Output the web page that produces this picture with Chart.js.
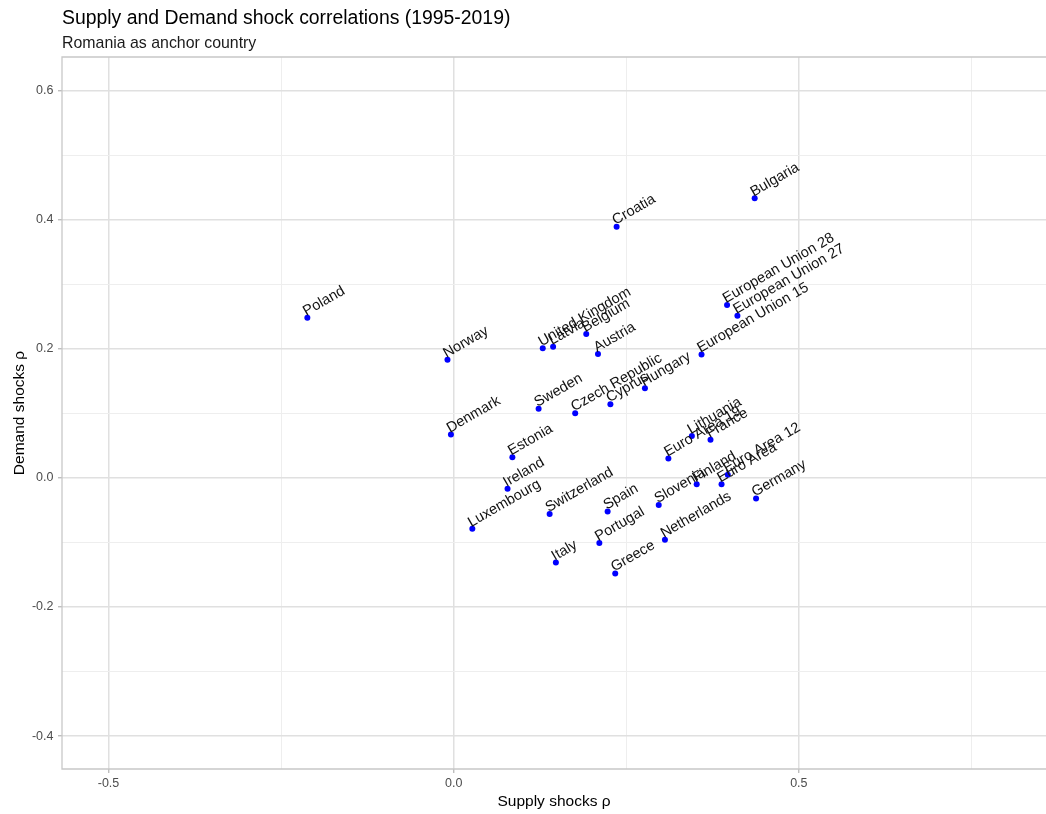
<!DOCTYPE html>
<html>
<head>
<meta charset="utf-8">
<title>Supply and Demand shock correlations (1995-2019)</title>
<script src="https://cdn.jsdelivr.net/npm/chart.js@4/dist/chart.umd.min.js"></script>
<style>
  html, body { margin: 0; padding: 0; background: #ffffff; }
  #wrap { width: 1046px; height: 814px; }
</style>
</head>
<body>
<div id="wrap"><canvas id="chart" width="1046" height="814"></canvas></div>
<script>
// Correlation of supply and demand shocks with Romania, 1995-2019
const countries = [
  'Poland', 'Norway', 'Denmark', 'Croatia', 'Bulgaria',
  'European Union 28', 'European Union 27', 'European Union 15',
  'Austria', 'Belgium', 'United Kingdom', 'Latvia', 'Sweden',
  'Czech Republic', 'Cyprus', 'Hungary', 'Estonia', 'Ireland',
  'Luxembourg', 'Switzerland', 'Spain', 'Portugal', 'Italy', 'Greece',
  'Slovenia', 'Netherlands', 'Euro Area 19', 'Lithuania', 'France',
  'Finland', 'Euro Area', 'Euro Area 12', 'Germany'
];
const supplyRho = [
  -0.212, -0.009, -0.004, 0.236, 0.436,
  0.396, 0.411, 0.359,
  0.209, 0.192, 0.129, 0.144, 0.123,
  0.176, 0.227, 0.277, 0.085, 0.078,
  0.027, 0.139, 0.223, 0.211, 0.148, 0.234,
  0.297, 0.306, 0.311, 0.345, 0.372,
  0.352, 0.388, 0.397, 0.438
];
const demandRho = [
  0.248, 0.183, 0.067, 0.389, 0.433,
  0.268, 0.251, 0.191,
  0.192, 0.223, 0.201, 0.203, 0.107,
  0.100, 0.114, 0.139, 0.032, -0.017,
  -0.079, -0.056, -0.052, -0.101, -0.131, -0.148,
  -0.042, -0.096, 0.030, 0.065, 0.059,
  -0.010, -0.010, 0.005, -0.032
];

// Axis breaks: every break gets a grid line, only the labelled ones get text
const xBreaks = [-0.5, -0.25, 0, 0.25, 0.5, 0.75];
const xLabelled = [-0.5, 0, 0.5];
const yBreaks = [-0.4, -0.3, -0.2, -0.1, 0, 0.1, 0.2, 0.3, 0.4, 0.5, 0.6];
const yLabelled = [-0.4, -0.2, 0, 0.2, 0.4, 0.6];

const chartTitle = 'Supply and Demand shock correlations (1995-2019)';
const chartSubtitle = 'Romania as anchor country';
const xTitle = 'Supply shocks \u03c1';
const yTitle = 'Demand shocks \u03c1';

const FONT = '"Liberation Sans", Arial, sans-serif';
const isLabelled = (list, v) => list.some(b => Math.abs(b - v) < 1e-9);

const points = countries.map((name, i) => ({ x: supplyRho[i], y: demandRho[i], name }));

// Panel frame (left, top, bottom) drawn over the grid
const panelFrame = {
  id: 'panelFrame',
  beforeDatasetsDraw(chart) {
    const { ctx, chartArea: a } = chart;
    ctx.save();
    ctx.strokeStyle = '#c8c8c8';
    ctx.lineWidth = 1.3;
    ctx.beginPath();
    ctx.moveTo(a.right + 2, a.top);
    ctx.lineTo(a.left, a.top);
    ctx.lineTo(a.left, a.bottom);
    ctx.lineTo(a.right + 2, a.bottom);
    ctx.stroke();
    ctx.restore();
  }
};

// Country names written at each point, slanted 30 degrees
const pointLabels = {
  id: 'pointLabels',
  afterDatasetsDraw(chart) {
    const { ctx } = chart;
    const meta = chart.getDatasetMeta(0);
    ctx.save();
    ctx.font = '14.6px ' + FONT;
    ctx.fillStyle = '#111111';
    ctx.textAlign = 'left';
    ctx.textBaseline = 'alphabetic';
    meta.data.forEach((el, i) => {
      ctx.save();
      ctx.translate(el.x, el.y);
      ctx.rotate(-Math.PI / 6);
      ctx.fillText(chart.data.datasets[0].data[i].name, 0, -2);
      ctx.restore();
    });
    ctx.restore();
  }
};

// Title and subtitle, left-aligned with the panel
const headings = {
  id: 'headings',
  afterDraw(chart) {
    const { ctx, chartArea: a } = chart;
    ctx.save();
    ctx.textAlign = 'left';
    ctx.textBaseline = 'alphabetic';
    ctx.fillStyle = '#000000';
    ctx.font = '19.4px ' + FONT;
    ctx.fillText(chartTitle, a.left, 23.5);
    ctx.fillStyle = '#1a1a1a';
    ctx.font = '15.9px ' + FONT;
    ctx.fillText(chartSubtitle, a.left, 47.5);
    ctx.restore();
  }
};

new Chart(document.getElementById('chart'), {
  type: 'scatter',
  data: {
    datasets: [{
      data: points,
      backgroundColor: '#0000ff',
      borderWidth: 0,
      pointRadius: 3,
      pointHoverRadius: 3
    }]
  },
  options: {
    responsive: false,
    animation: false,
    events: [],
    layout: { autoPadding: false, padding: { top: 57, left: 0, right: 0, bottom: 0 } },
    plugins: {
      legend: { display: false },
      tooltip: { enabled: false },
      title: { display: false }
    },
    scales: {
      x: {
        type: 'linear',
        min: -0.5674,
        max: 0.858,
        afterBuildTicks(scale) { scale.ticks = xBreaks.map(v => ({ value: v })); },
        afterFit(scale) { scale.height = 45; scale.paddingLeft = 0; scale.paddingRight = 0; },
        border: { display: false },
        grid: {
          color: c => isLabelled(xLabelled, c.tick.value) ? '#e0e0e0' : '#eeeeee',
          lineWidth: c => isLabelled(xLabelled, c.tick.value) ? 1.5 : 1,
          tickColor: c => isLabelled(xLabelled, c.tick.value) ? '#b3b3b3' : 'rgba(0,0,0,0)',
          tickLength: 4,
          tickWidth: 1.2
        },
        ticks: {
          autoSkip: false,
          maxRotation: 0,
          padding: 3,
          color: '#4d4d4d',
          font: { family: FONT, size: 12.5 },
          callback: v => isLabelled(xLabelled, v) ? v.toFixed(1) : ''
        },
        title: {
          display: true,
          text: xTitle,
          color: '#000000',
          font: { family: FONT, size: 15.5 },
          padding: { top: 0, bottom: 3.2 }
        }
      },
      y: {
        type: 'linear',
        min: -0.451,
        max: 0.652,
        afterBuildTicks(scale) { scale.ticks = yBreaks.map(v => ({ value: v })); },
        afterFit(scale) { scale.width = 62; scale.paddingTop = 0; scale.paddingBottom = 0; },
        border: { display: false },
        grid: {
          color: c => isLabelled(yLabelled, c.tick.value) ? '#e0e0e0' : '#eeeeee',
          lineWidth: c => isLabelled(yLabelled, c.tick.value) ? 1.5 : 1,
          tickColor: c => isLabelled(yLabelled, c.tick.value) ? '#b3b3b3' : 'rgba(0,0,0,0)',
          tickLength: 4,
          tickWidth: 1.2
        },
        ticks: {
          autoSkip: false,
          padding: 4.5,
          color: '#4d4d4d',
          font: { family: FONT, size: 12.5 },
          callback: v => isLabelled(yLabelled, v) ? v.toFixed(1) : ''
        },
        title: {
          display: true,
          text: yTitle,
          color: '#000000',
          font: { family: FONT, size: 15.5 },
          padding: { top: 10.7, bottom: 0 }
        }
      }
    }
  },
  plugins: [panelFrame, pointLabels, headings]
});
</script>
</body>
</html>
